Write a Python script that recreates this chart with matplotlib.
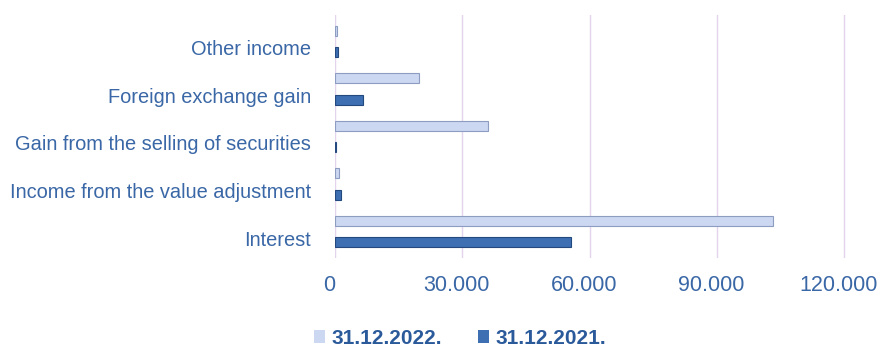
import matplotlib
matplotlib.use("Agg")
import matplotlib.pyplot as plt
import matplotlib.transforms as mtransforms
from matplotlib.ticker import FuncFormatter
import numpy as np

plt.rcParams['font.family'] = ['Liberation Sans', 'DejaVu Sans']

# income categories, bottom to top
categories = ["Interest", "Income from the value adjustment",
              "Gain from the selling of securities", "Foreign exchange gain",
              "Other income"]
vals_2022 = [103100, 900, 36100, 19700, 500]
vals_2021 = [55500, 1500, 300, 6500, 600]
series_names = ["31.12.2022.", "31.12.2021."]
x_ticks = [0, 30000, 60000, 90000, 120000]

label_col = "#3a67a6"
light_col = "#ccd8f1"
light_edge = "#8d9dc2"
dark_col = "#3e6fb3"
dark_edge = "#24497f"
grid_col = "#e4d3ec"

fig = plt.figure(figsize=(8.81, 3.48), dpi=100)
ax = fig.add_axes([0.3802, 0.2586, 0.5812, 0.6983])

y = np.arange(len(categories))
h = 0.21
ax.barh(y + 0.36, vals_2022, height=h, color=light_col, edgecolor=light_edge,
        linewidth=0.8, label=series_names[0], zorder=3)
ax.barh(y - 0.09, vals_2021, height=h, color=dark_col, edgecolor=dark_edge,
        linewidth=0.8, label=series_names[1], zorder=3)

ax.set_xlim(0, 120600)
ax.set_ylim(-0.42, 4.69)
ax.set_xticks(x_ticks)
ax.xaxis.set_major_formatter(FuncFormatter(lambda v, p: f"{int(v):,}".replace(",", ".")))
ax.set_yticks(y)
ax.set_yticklabels(categories)

ax.grid(axis='x', color=grid_col, linewidth=1.0, zorder=0)
for s in ax.spines.values():
    s.set_visible(False)
ax.tick_params(axis='both', length=0)
ax.tick_params(axis='y', pad=17, labelsize=14.4, labelcolor=label_col)
ax.tick_params(axis='x', pad=12, labelsize=15.5, labelcolor=label_col)

# shift x labels a little left, the floor is drawn in perspective
offset = mtransforms.ScaledTranslation(-6 / 100, 0, fig.dpi_scale_trans)
for lbl in ax.get_xticklabels():
    lbl.set_transform(lbl.get_transform() + offset)

leg = fig.legend(loc='center', bbox_to_anchor=(0.522, 0.027), ncol=2, frameon=False,
                 handlelength=0.55, handleheight=0.55, handletextpad=0.3,
                 columnspacing=1.7, prop={'weight': 'bold', 'size': 15})
for t in leg.get_texts():
    t.set_color("#2b5a9b")
for hnd in leg.legend_handles:
    hnd.set_edgecolor('none')

fig.savefig("out.png", dpi=100, facecolor='white')
